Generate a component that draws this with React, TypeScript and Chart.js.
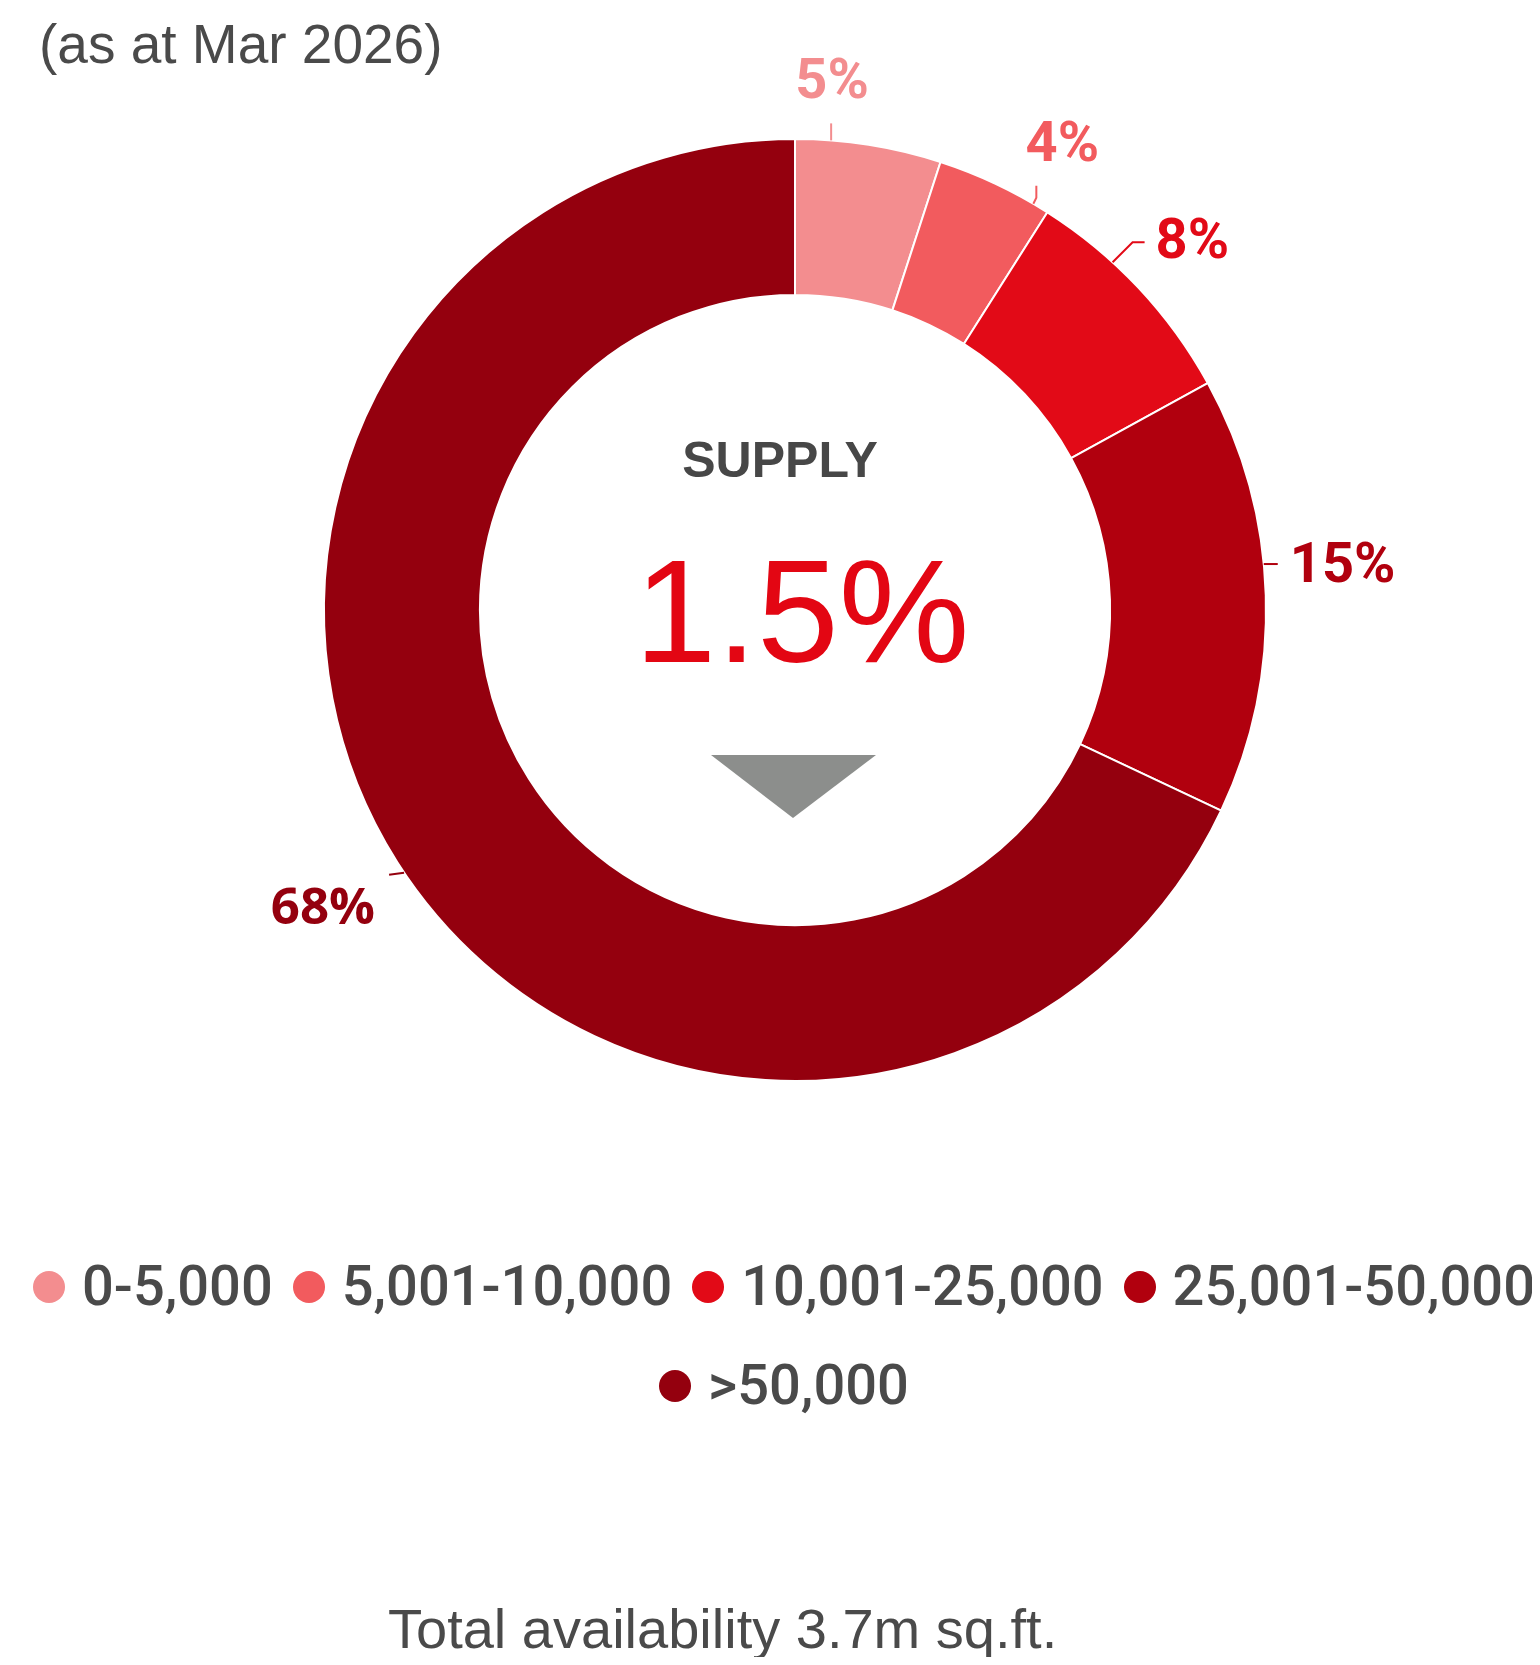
import React, { useEffect, useRef } from "react";
import { Chart, registerables } from "chart.js";

Chart.register(...registerables);

// ---------- data ----------
const categories = ["0-5,000", "5,001-10,000", "10,001-25,000", "25,001-50,000", ">50,000"];
const shares = [5, 4, 8, 15, 68];
const sliceColors = ["#F38D8F", "#F25B5E", "#E20A17", "#B1000E", "#94000E"];
const titleText = "(as at Mar 2026)";
const centerTitle = "SUPPLY";
const centerValue = "1.5%";
const footerText = "Total availability 3.7m sq.ft.";
const legendRows = [[0, 1, 2, 3], [4]];

// ---------- label layout (not data) ----------
type LabelLayout = {
  angle: number;
  leader: number[][];
  text: number[];
  align: CanvasTextAlign;
  font: string;
};
const labelLayout: LabelLayout[] = [
  { angle: 4.4, leader: [[0, -17]], text: [1, -42], align: "center", font: "700 56px Roboto" },
  { angle: 30.4, leader: [[3, -6], [3, -18]], text: [29, -43], align: "center", font: "700 56px Roboto" },
  { angle: 42.4, leader: [[20, -20], [32, -20]], text: [43, -4], align: "left", font: "700 56px Roboto" },
  { angle: 84.4, leader: [[14, 0]], text: [26, 18], align: "left", font: "700 56px Roboto" },
  { angle: 236.1, leader: [[-15, 2]], text: [-29, 51], align: "right", font: "700 51px 'Open Sans'" },
];

const outsideLabels = {
  id: "outsideLabels",
  afterDatasetsDraw(chart: any) {
    const ctx = chart.ctx as CanvasRenderingContext2D;
    const meta = chart.getDatasetMeta(0);
    const ds = chart.data.datasets[0];
    meta.data.forEach((el: any, i: number) => {
      const lay = labelLayout[i];
      if (!lay) return;
      const { x, y, outerRadius } = el.getProps(["x", "y", "outerRadius"], true);
      const a = (lay.angle * Math.PI) / 180;
      const ax = x + outerRadius * Math.sin(a);
      const ay = y - outerRadius * Math.cos(a);
      const color = (ds.backgroundColor as string[])[i];
      ctx.save();
      ctx.strokeStyle = color;
      ctx.lineWidth = 2;
      ctx.beginPath();
      ctx.moveTo(ax, ay);
      lay.leader.forEach((p) => ctx.lineTo(ax + p[0], ay + p[1]));
      ctx.stroke();
      ctx.fillStyle = color;
      ctx.font = lay.font;
      ctx.textAlign = lay.align;
      ctx.textBaseline = "alphabetic";
      ctx.fillText(`${ds.data[i]}%`, ax + lay.text[0], ay + lay.text[1]);
      ctx.restore();
    });
  },
};

const ARIAL = "'Liberation Sans', Arial, Helvetica, sans-serif";

export default function App() {
  const canvasRef = useRef<HTMLCanvasElement | null>(null);

  useEffect(() => {
    if (!canvasRef.current) return;
    const chart = new Chart(canvasRef.current, {
      type: "doughnut",
      data: {
        labels: categories,
        datasets: [
          {
            data: shares,
            backgroundColor: sliceColors,
            borderColor: "#ffffff",
            borderWidth: 2,
            hoverOffset: 0,
          },
        ],
      },
      options: {
        responsive: false,
        animation: false,
        devicePixelRatio: 1,
        cutout: "66.9%",
        layout: { padding: { left: 323, right: 273, top: 138, bottom: 583 } },
        plugins: {
          legend: { display: false },
          tooltip: { enabled: false },
        },
      },
      plugins: [outsideLabels],
    });
    return () => chart.destroy();
  }, []);

  return (
    <div
      style={{
        position: "relative",
        width: 1540,
        height: 1665,
        margin: -8,
        overflow: "hidden",
        background: "#ffffff",
      }}
    >
      <canvas
        ref={canvasRef}
        width={1540}
        height={1665}
        style={{ position: "absolute", left: 0, top: 0, width: 1540, height: 1665, display: "block" }}
      />
      <div
        style={{
          position: "absolute",
          left: 39,
          top: 17,
          fontFamily: ARIAL,
          fontSize: 55,
          lineHeight: "55px",
          color: "#4a4a4a",
          whiteSpace: "nowrap",
        }}
      >
        {titleText}
      </div>
      <div
        style={{
          position: "absolute",
          left: 780,
          top: 435,
          transform: "translateX(-50%)",
          fontFamily: ARIAL,
          fontWeight: 700,
          fontSize: 50,
          lineHeight: "50px",
          color: "#474747",
          whiteSpace: "nowrap",
        }}
      >
        {centerTitle}
      </div>
      <div
        style={{
          position: "absolute",
          left: 802,
          top: 538,
          transform: "translateX(-50%)",
          fontFamily: ARIAL,
          fontSize: 147,
          lineHeight: "147px",
          color: "#E30613",
          whiteSpace: "nowrap",
        }}
      >
        {centerValue}
      </div>
      <svg
        width={1540}
        height={1665}
        style={{ position: "absolute", left: 0, top: 0, pointerEvents: "none" }}
      >
        <polygon points="711,755 876,755 793,818" fill="#8C8E8C" />
      </svg>
      <div
        style={{
          position: "absolute",
          left: 14,
          top: 1253,
          width: 1540,
          display: "flex",
          flexDirection: "column",
          alignItems: "center",
          rowGap: 32,
          fontFamily: "Roboto, 'Noto Sans', sans-serif",
          fontWeight: 500,
          fontSize: 56,
          lineHeight: "67px",
          color: "#4a4a4a",
        }}
      >
        {legendRows.map((row, r) => (
          <div key={r} style={{ display: "flex", flexWrap: "nowrap", columnGap: 20, whiteSpace: "nowrap" }}>
            {row.map((i) => (
              <div key={categories[i]} style={{ display: "flex", alignItems: "center", height: 67 }}>
                <span
                  style={{
                    display: "inline-block",
                    width: 32,
                    height: 32,
                    borderRadius: "50%",
                    background: sliceColors[i],
                    marginRight: 17,
                  }}
                />
                <span>{categories[i]}</span>
              </div>
            ))}
          </div>
        ))}
      </div>
      <div
        style={{
          position: "absolute",
          left: 388,
          top: 1601,
          fontFamily: ARIAL,
          fontSize: 56,
          lineHeight: "56px",
          color: "#4a4a4a",
          whiteSpace: "nowrap",
        }}
      >
        {footerText}
      </div>
    </div>
  );
}
